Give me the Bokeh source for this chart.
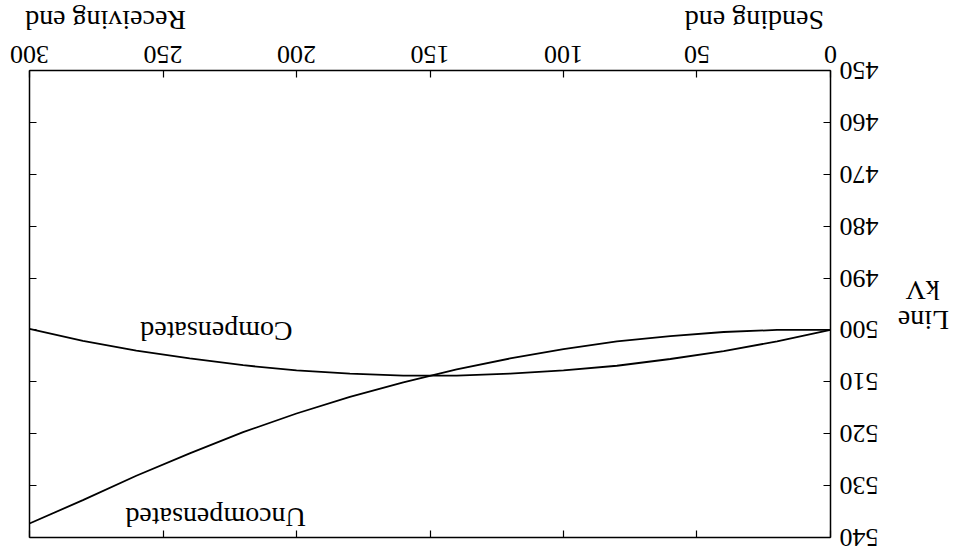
import math
from bokeh.plotting import figure
from bokeh.models import Range1d, LinearAxis, FixedTicker, Label, CustomJSTickFormatter
from bokeh.embed import file_html
from bokeh.resources import INLINE

# Distance along line (km) and voltages (kV)
distance_km = [0, 20, 40, 60, 80, 100, 120, 140, 160, 180, 200, 220, 240, 260, 280, 300]
uncompensated_kv = [500.0, 500.0, 500.4, 501.2, 502.2, 503.7, 505.5, 507.6, 510.1, 512.9,
                    516.1, 519.7, 523.8, 528.1, 532.8, 537.3]
compensated_kv = [500.0, 502.2, 504.1, 505.6, 506.9, 507.8, 508.4, 508.8, 508.8, 508.4,
                  507.8, 506.8, 505.5, 504.0, 502.1, 499.8]

x_ticks = [0, 50, 100, 150, 200, 250, 300]
y_ticks = [450, 460, 470, 480, 490, 500, 510, 520, 530, 540]

FONT = "Liberation Serif"
W, H = 952, 553

# frame = whole canvas; the plot box is drawn by axes at fixed locations
p = figure(width=W, height=H, output_backend="svg", toolbar_location=None,
           x_range=Range1d(-45.32, 311.24), y_range=Range1d(436.32, 542.89),
           x_axis_location=None, y_axis_location=None,
           min_border_left=0, min_border_right=0, min_border_top=0, min_border_bottom=0)
# the scanned figure is shown upside down
p.styles = {"transform": "rotate(180deg)", "transform-origin": f"{W/2}px {H/2}px"}

p.xgrid.visible = False
p.ygrid.visible = False
p.outline_line_color = None
p.background_fill_color = "white"
p.border_fill_color = "white"

def make_axis(ticks, loc, bounds, show_labels, standoff=0):
    ax = LinearAxis(fixed_location=loc, bounds=bounds)
    ax.ticker = FixedTicker(ticks=ticks)
    ax.axis_line_color = "black"
    ax.axis_line_width = 1.5
    ax.major_tick_in = 7
    ax.major_tick_out = 0
    ax.major_tick_line_color = "black"
    ax.major_tick_line_width = 1.2
    ax.minor_tick_line_color = None
    if show_labels:
        ax.major_label_text_font = FONT
        ax.major_label_text_font_size = "26px"
        ax.major_label_text_color = "black"
        ax.major_label_standoff = standoff
    else:
        ax.formatter = CustomJSTickFormatter(code="return ''")
        ax.major_label_text_font_size = "0px"
    return ax

p.add_layout(make_axis(x_ticks, 450, (0, 300), True, 8), "below")
p.add_layout(make_axis(x_ticks, 540, (0, 300), False), "above")
p.add_layout(make_axis(y_ticks, 0, (450, 540), True, 9), "left")
p.add_layout(make_axis(y_ticks, 300, (450, 540), False), "right")

p.line(distance_km, uncompensated_kv, line_color="black", line_width=1.8)
p.line(distance_km, compensated_kv, line_color="black", line_width=1.8)

def lab(txt, x, y, size="28px"):
    p.add_layout(Label(x=x, y=y, text=txt, text_align="center",
                       text_baseline="middle", text_font=FONT, text_font_size=size,
                       text_color="black"))

lab("Compensated", 230.0, 500.3)
lab("Uncompensated", 230.3, 536.15)
lab("Sending end", 28.5, 440.36)
lab("Receiving end", 271.5, 440.36)
lab("Line", -34.8, 498.2)
lab("kV", -34.5, 492.4)

open("out.html", "w").write(file_html(p, INLINE))
